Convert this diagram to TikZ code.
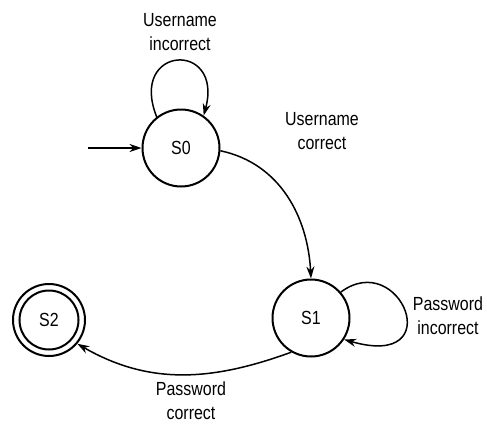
\documentclass[tikz,border=0pt]{standalone}
\usepackage{fontspec}
\setmainfont[FakeStretch=0.84]{Liberation Sans}
\usetikzlibrary{arrows.meta}
\begin{document}
\begin{tikzpicture}[x=1pt,y=-1pt,
  state/.style={circle,draw,line width=2pt,minimum size=77pt,inner sep=0pt,font=\fontsize{19}{24}\selectfont},
  lbl/.style={align=center,font=\fontsize{19}{24}\selectfont,inner sep=0pt},
  edge/.style={line width=1.5pt,-{Stealth[length=12pt,width=8pt]}}]
\useasboundingbox (0,0) rectangle (487,429);
\node[state] (s0) at (181,148) {S0};
\node[state] (s1) at (311,318) {S1};
\node[state,minimum size=72pt] (s2) at (49,320) {};
\node[state,minimum size=59pt] (s2i) at (49,320) {S2};
\coordinate (st) at (88,148);
\draw[edge] (st) -- (s0);
\draw[edge] (s0.128) .. controls (128,45) and (224,40) .. (s0.55);
\draw[edge] (s1.41) .. controls (400,248) and (450,370) .. (s1.-33);
\draw[edge] (s0.-4) to[out=-12,in=93] (s1.north);
\draw[edge] (s1.240) to[out=200,in=-30] (s2.-40);
\node[lbl] (l0) at (180,32) {Username\\incorrect};
\node[lbl] (l1) at (322,131) {Username\\correct};
\node[lbl] (l2) at (448,316) {Password\\incorrect};
\node[lbl] (l3) at (191,401) {Password\\correct};
\end{tikzpicture}
\end{document}
